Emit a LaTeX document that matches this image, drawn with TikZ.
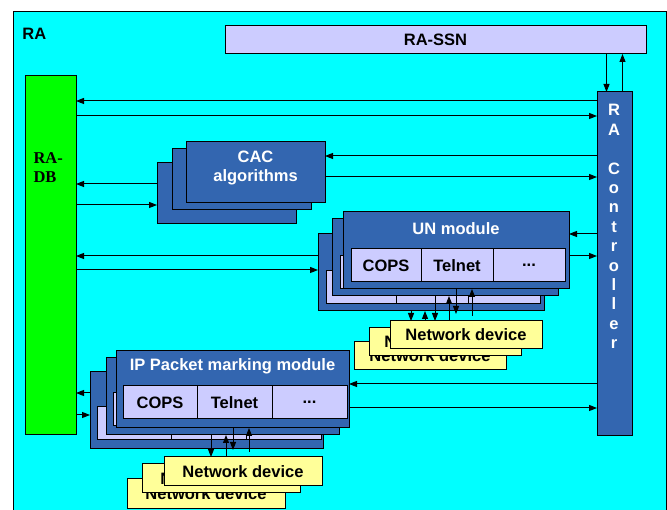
\documentclass[tikz,border=0pt]{standalone}
\usepackage{fontspec}
\setmainfont{Liberation Sans}
\newfontfamily\dbfont{Liberation Serif}
\usetikzlibrary{positioning,calc,arrows.meta}

\definecolor{raback}{HTML}{00FFFF}
\definecolor{modblue}{HTML}{3366B0}
\definecolor{celllav}{HTML}{CCCCFF}
\definecolor{dbgreen}{HTML}{00FF00}
\definecolor{ndyellow}{HTML}{FFFF99}

\tikzset{
  box/.style={draw, line width=1pt, inner sep=0pt, outer sep=0pt, anchor=north west},
  blue box/.style={box, fill=modblue},
  cell/.style={box, fill=celllav, minimum height=33pt},
  netdev/.style={box, fill=ndyellow, minimum height=28pt},
  white text/.style={text=white, inner sep=0pt, anchor=north, align=center},
  >={Triangle[length=8pt,width=6pt]}
}

\begin{document}
\begin{tikzpicture}[x=1pt, y=-1pt, line width=1pt, font=\fontsize{16.5}{19.4}\selectfont\bfseries]
    \useasboundingbox (0,0) rectangle (667,510);
    % frame, RA-SSN, RA-DB and controller
    \node[box, fill=raback, minimum width=653pt, minimum height=505pt] (ra) at (13,12) {};
    \node[anchor=north west, inner sep=0pt] (ralabel) at (22,28) {RA};
    \node[box, fill=celllav, minimum width=421pt, minimum height=28pt] (ssn) at (225,26) {RA-SSN};
    \node[box, fill=dbgreen, minimum width=51pt, minimum height=359pt] (radb) at (25,76) {};
    \node[anchor=north west, inner sep=0pt, align=left, font=\dbfont\fontsize{16.5}{19.5}\selectfont\bfseries] (radbtext) at (33,152) {RA-\\DB};
    \node[blue box, minimum width=35pt, minimum height=344pt] (ctrl) at (597,92) {};
    \node[white text] (ctrltext) at (614,104) {R\\A\\[19.4pt]C\\o\\n\\t\\r\\o\\l\\l\\e\\r};

    % CAC stack
    \foreach \i/\dx/\dy in {3/-29/21, 2/-14/7, 1/0/0}
        \node[blue box, minimum width=139pt, minimum height=61pt] (cac\i) at (186+\dx,142+\dy) {};
    \node[white text] (cactitle) at ([yshift=-8pt]cac1.north) {CAC\\algorithms};

    % UN module stack
    \foreach \i/\dx/\dy in {3/-25/22, 2/-11/7} {
        \node[blue box, minimum width=226pt, minimum height=77pt] (un\i) at (343+\dx,212+\dy) {};
        \node[cell, minimum width=70pt] (un\i c1) at ([xshift=8pt,yshift=-37pt]un\i.north west) {};
        \node[cell, minimum width=72pt] (un\i c2) at (un\i c1.north east) {};
        \node[cell, minimum width=72pt] (un\i c3) at (un\i c2.north east) {};
    }
    \node[blue box, minimum width=226pt, minimum height=77pt] (un1) at (343,212) {};
    \node[cell, minimum width=70pt] (un1c1) at ([xshift=8pt,yshift=-37pt]un1.north west) {COPS};
    \node[cell, minimum width=72pt] (un1c2) at (un1c1.north east) {Telnet};
    \node[cell, minimum width=72pt] (un1c3) at (un1c2.north east) {...};
    \node[white text] (untitle) at ([yshift=-10pt]un1.north) {UN module};
    \foreach \i/\dx/\dy in {3/-36/21, 2/-21/7, 1/0/0}
        \node[netdev, minimum width=152pt] (unnd\i) at (390+\dx,321+\dy) {Network device};

    % IP packet marking module stack
    \foreach \i/\dx/\dy in {3/-26/21, 2/-10/7} {
        \node[blue box, minimum width=233pt, minimum height=77pt] (ip\i) at (116+\dx,351+\dy) {};
        \node[cell, minimum width=74pt] (ip\i c1) at ([xshift=7pt,yshift=-35pt]ip\i.north west) {};
        \node[cell, minimum width=75pt] (ip\i c2) at (ip\i c1.north east) {};
        \node[cell, minimum width=75pt] (ip\i c3) at (ip\i c2.north east) {};
    }
    \node[blue box, minimum width=233pt, minimum height=77pt] (ip1) at (116,351) {};
    \node[cell, minimum width=74pt] (ip1c1) at ([xshift=7pt,yshift=-35pt]ip1.north west) {COPS};
    \node[cell, minimum width=75pt] (ip1c2) at (ip1c1.north east) {Telnet};
    \node[cell, minimum width=75pt] (ip1c3) at (ip1c2.north east) {...};
    \node[white text] (iptitle) at ([yshift=-7pt]ip1.north) {IP Packet marking module};
    \foreach \i/\dx/\dy in {3/-37/22, 2/-22/7, 1/0/0}
        \node[netdev, minimum width=158pt, minimum height=29pt] (ipnd\i) at (164+\dx,457+\dy) {Network device};

    % levels of the horizontal links
    \foreach \y in {101,116,156,177,184,205,234,256,270,384,393,408,415}
        \coordinate (lv\y) at (0,\y);

    \draw[->] ([xshift=-8pt]ssn.south -| ctrl.north) -- ([xshift=-8pt]ctrl.north);
    \draw[->] ([xshift=8pt]ctrl.north) -- ([xshift=8pt]ssn.south -| ctrl.north);
    \draw[->] (ctrl.west |- lv101) -- (radb.east |- lv101);
    \draw[->] (radb.east |- lv116) -- (ctrl.west |- lv116);
    \draw[->] (ctrl.west |- lv156) -- (cac1.east |- lv156);
    \draw[->] (cac1.east |- lv177) -- (ctrl.west |- lv177);
    \draw[->] (cac3.west |- lv184) -- (radb.east |- lv184);
    \draw[->] (radb.east |- lv205) -- (cac3.west |- lv205);
    \draw[->] (ctrl.west |- lv234) -- (un1.east |- lv234);
    \draw[->] (un1.east |- lv256) -- (ctrl.west |- lv256);
    \draw[->] (un3.west |- lv256) -- (radb.east |- lv256);
    \draw[->] (radb.east |- lv270) -- (un3.west |- lv270);
    \draw[->] (ctrl.west |- lv384) -- (ip1.east |- lv384);
    \draw[->] (ip1.east |- lv408) -- (ctrl.west |- lv408);
    \draw[->] (ip3.west |- lv393) -- (radb.east |- lv393);
    \draw[->] (radb.east |- lv415) -- (ip3.west |- lv415);

    % modules to network devices
    \draw[->, shorten >=7pt] ([xshift=113pt]un1.south west) -- ([xshift=113pt]un1.south west |- unnd1.north);
    \draw[->, shorten <=5pt] ([xshift=129pt]un1.south west |- unnd1.north) -- ([xshift=129pt]un1.south west);
    \draw[->] ([xshift=103pt]un2.south west) -- ([xshift=103pt]un2.south west |- unnd1.north);
    \draw[->] ([xshift=117pt]un2.south west |- unnd1.north) -- ([xshift=117pt]un2.south west);
    \draw[->] ([xshift=93pt]un3.south west) -- ([xshift=93pt]un3.south west |- unnd1.north);
    \draw[->] ([xshift=107pt]un3.south west |- unnd1.north) -- ([xshift=107pt]un3.south west);
    \draw[->, shorten >=7pt] ([xshift=117pt]ip1.south west) -- ([xshift=117pt]ip1.south west |- ipnd1.north);
    \draw[->, shorten <=5pt] ([xshift=133pt]ip1.south west |- ipnd1.north) -- ([xshift=133pt]ip1.south west);
    \draw[->] ([xshift=105pt]ip2.south west) -- ([xshift=105pt]ip2.south west |- ipnd1.north);
    \draw[->] ([xshift=120pt]ip2.south west |- ipnd1.north) -- ([xshift=120pt]ip2.south west);
\end{tikzpicture}
\end{document}
